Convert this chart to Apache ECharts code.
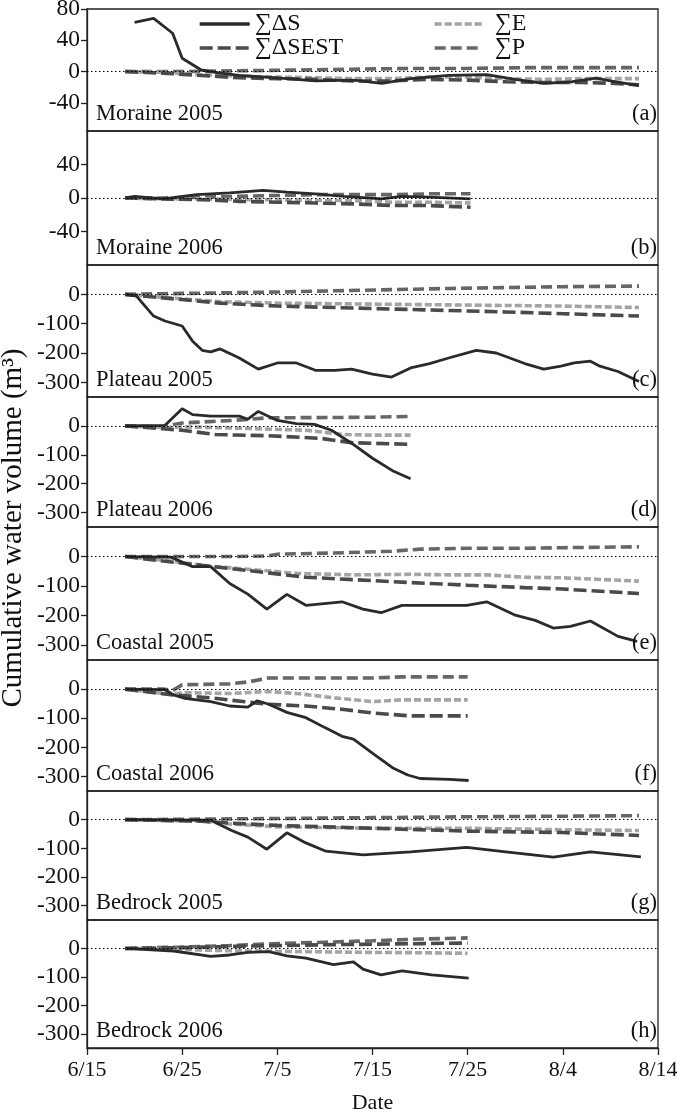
<!DOCTYPE html>
<html>
<head>
<meta charset="utf-8">
<script src="https://cdn.jsdelivr.net/npm/echarts@6/dist/echarts.min.js"></script>
<style>
  html, body { margin: 0; padding: 0; background: #fff; }
  #chart { width: 678px; height: 1115px; }
</style>
</head>
<body>
<div id="chart"></div>
<script>
  // x = days after 6/15
  const tickLabels = ['6/15', '6/25', '7/5', '7/15', '7/25', '8/4', '8/14'];
  const panelNames = ['Moraine 2005', 'Moraine 2006', 'Plateau 2005', 'Plateau 2006',
    'Coastal 2005', 'Coastal 2006', 'Bedrock 2005', 'Bedrock 2006'];
  const panelLetters = ['(a)', '(b)', '(c)', '(d)', '(e)', '(f)', '(g)', '(h)'];
  const yMins = [-76, -80, -350, -350, -350, -350, -350, -350];
  const yMaxs = [80, 80, 100, 100, 100, 100, 100, 100];
  const yTickValues = [[-40, 0, 40, 80], [-40, 0, 40], [-300, -200, -100, 0], [-300, -200, -100, 0],
    [-300, -200, -100, 0], [-300, -200, -100, 0], [-300, -200, -100, 0], [-300, -200, -100, 0]];

  // Moraine 2005
  const a_dS = [[5,63],[7,68],[9,49],[10,17],[12,2],[14,-2],[16,-5],[20,-8],[24,-12],[28,-11],[31,-15],[34,-9],[38,-5],[42,-4],[45,-10],[48,-15],[51,-13],[53.5,-8.5],[55,-12],[58,-18]];
  const a_dSEST = [[4,0],[8,-2],[12,-5],[16,-8],[20,-9],[24,-10],[28,-12],[32,-12],[36,-10],[40,-11],[44,-13],[48,-14],[52,-14],[55,-15],[58,-17]];
  const a_E = [[4,0],[8,-1],[12,-4],[16,-6],[20,-7],[24,-8],[28,-9],[32,-9],[36,-7],[40,-7],[44,-9],[48,-10],[52,-9],[55,-9],[58,-9]];
  const a_P = [[4,0],[10,0],[16,1],[22,2],[28,3],[34,4],[40,4],[46,5],[52,5],[58,5]];
  // Moraine 2006
  const b_dS = [[4,0],[5,2],[8,-1],[11.5,4],[15,6],[18.5,9],[21,7],[24,5],[27,2],[31,-1],[33,2],[36,1],[40.3,-1]];
  const b_dSEST = [[4,0],[8,-1],[12,-2],[16,-4],[20,-5],[24,-6],[28,-7],[32,-9],[36,-9],[40.3,-11]];
  const b_E = [[4,0],[8,-1],[12,-1],[16,-2],[20,-2],[24,-3],[28,-3],[32,-5],[36,-5],[40.3,-6]];
  const b_P = [[4,0],[8,0],[12,1],[16,2],[20,3],[24,4],[28,4],[32,4],[36,5],[40.3,5]];
  // Plateau 2005
  const c_dS = [[4,0],[5.2,-6],[7,-74],[8.2,-91],[10,-108],[11.1,-160],[12.1,-191],[13,-196],[14,-186],[16,-217],[18,-255],[20,-234],[22,-234],[24,-259],[26,-259],[27.8,-255],[30,-272],[32,-282],[34,-251],[36,-236],[38,-217],[40.9,-191],[43,-200],[46,-236],[48,-255],[49.8,-245],[51.2,-234],[52.9,-228],[53.9,-245],[55.8,-263],[58,-297]];
  const c_dSEST = [[4,0],[8,-12],[14,-30],[20,-40],[26,-45],[32,-50],[38,-55],[44,-60],[50,-66],[58,-74]];
  const c_E = [[4,0],[8,-10],[14,-25],[20,-30],[26,-32],[32,-34],[38,-36],[44,-38],[50,-40],[58,-45]];
  const c_P = [[4,0],[8,2],[14,5],[20,8],[26,12],[32,16],[38,20],[44,23],[50,26],[58,28]];
  // Plateau 2006
  const d_dS = [[4,0],[8.2,2],[10,59],[11.1,39],[13,34],[16,34],[16.9,23],[18,50],[20,19],[22,8],[23.9,5],[25.7,-15],[27.8,-60],[30,-112],[32.1,-155],[34,-183]];
  const d_dSEST = [[4,0],[8,-10],[10,-15],[13.5,-30],[19,-34],[24.5,-43],[27.8,-58],[34,-64]];
  const d_E = [[4,0],[8,-6],[10,-3],[17,-9],[23,-15],[27,-30],[30,-32],[34,-32]];
  const d_P = [[4,0],[8,-3],[10,10],[15.4,19],[19,28],[26,29],[30,30],[34,33]];
  // Coastal 2005
  const e_dS = [[4,0],[8.8,-2],[11.1,-34],[13,-34],[15,-91],[16.9,-127],[18.9,-178],[21,-128],[23,-165],[26.8,-153],[29,-178],[30.9,-190],[33.1,-165],[39.9,-165],[42,-153],[44.9,-197],[47.1,-216],[49,-242],[50.8,-236],[52.9,-218],[55.8,-270],[57.8,-287]];
  const e_dSEST = [[4,0],[8,-15],[13,-33],[19,-55],[23,-70],[28,-78],[34,-88],[40,-97],[46,-105],[50,-110],[58,-125]];
  const e_E = [[4,0],[8,-12],[13,-33],[19,-48],[22,-57],[28,-62],[34,-60],[38,-62],[42,-62],[46,-70],[50,-72],[58,-83]];
  const e_P = [[4,0],[10,0],[15,0],[19,2],[20,8],[26,12],[32,18],[35,25],[40,28],[46,28],[50,30],[58,33]];
  // Coastal 2006
  const f_dS = [[4,0],[8.2,-2],[9.1,-20],[10.3,-32],[13,-43],[15,-58],[16.9,-62],[17.9,-40],[19.1,-52],[21,-80],[23,-98],[25.1,-134],[26.8,-162],[28,-172],[30.2,-225],[32.1,-270],[33.7,-295],[35,-307],[38.1,-310],[40.1,-314]];
  const f_dSEST = [[4,0],[9,-20],[13,-30],[17,-45],[19,-52],[23,-58],[27,-70],[30,-82],[34,-92],[40,-92]];
  const f_E = [[4,0],[9,-18],[10,-12],[15,-15],[19,-8],[22,-15],[26,-30],[30,-43],[33,-37],[40,-37]];
  const f_P = [[4,0],[8,0],[9,-5],[10,15],[15,18],[17,25],[19,38],[25,38],[30,38],[33,42],[40,42]];
  // Bedrock 2005
  const g_dS = [[4,0],[13,-2],[15.2,-38],[16.9,-61],[18.9,-103],[21,-46],[23,-81],[25.1,-110],[29,-123],[34,-112],[39.9,-97],[44,-112],[49,-131],[52.9,-112],[58.2,-130]];
  const g_dSEST = [[4,0],[12,-5],[15,-12],[20,-20],[30,-30],[40,-40],[50,-45],[58,-55]];
  const g_E = [[4,0],[12,-5],[15,-15],[20,-25],[30,-30],[40,-30],[50,-35],[58,-38]];
  const g_P = [[4,0],[12,2],[20,4],[30,7],[40,10],[50,12],[58,14]];
  // Bedrock 2006
  const h_dS = [[4,0],[9.1,-9],[13,-28],[15,-23],[16.9,-14],[19.1,-11],[21,-26],[23,-34],[25.9,-57],[28,-47],[29,-73],[30.9,-93],[33.1,-79],[36.2,-93],[40.1,-104]];
  const h_dSEST = [[4,0],[10,3],[15,7],[20,10],[25,13],[30,15],[35,17],[40,19]];
  const h_E = [[4,0],[10,-4],[15,-8],[20,-10],[25,-12],[30,-14],[35,-15],[40,-17]];
  const h_P = [[4,0],[10,5],[15,10],[20,17],[25,22],[30,27],[35,33],[40,37]];

  const dSData = [a_dS, b_dS, c_dS, d_dS, e_dS, f_dS, g_dS, h_dS];
  const dSESTData = [a_dSEST, b_dSEST, c_dSEST, d_dSEST, e_dSEST, f_dSEST, g_dSEST, h_dSEST];
  const EData = [a_E, b_E, c_E, d_E, e_E, f_E, g_E, h_E];
  const PData = [a_P, b_P, c_P, d_P, e_P, f_P, g_P, h_P];

  const gridTops = [9, 131, 265, 397, 527, 660, 791, 920];
  const gridHeights = [122, 134, 132, 130, 133, 131, 129, 128];
  const FONT = "'Liberation Serif', 'Times New Roman', serif";

  const grids = [], xAxes = [], yAxes = [], series = [], titles = [];
  for (let i = 0; i < 8; i++) {
    const last = i === 7;
    grids.push({
      left: 87, right: 20, top: gridTops[i], height: gridHeights[i],
      outerBoundsMode: 'none', containLabel: false,
      show: true, borderColor: '#222', borderWidth: 1.3
    });
    xAxes.push({
      gridIndex: i, type: 'value', min: 0, max: 60, interval: 10,
      axisLine: { show: last, onZero: false, lineStyle: { color: '#222', width: 1.3 } },
      axisTick: { show: last, length: 7, lineStyle: { color: '#222', width: 1.3 } },
      axisLabel: {
        show: last, fontFamily: FONT, fontSize: 22, color: '#111', margin: 11,
        formatter: v => tickLabels[v / 10]
      },
      splitLine: { show: false },
      name: last ? 'Date' : '', nameLocation: 'middle', nameGap: 44,
      nameTextStyle: { fontFamily: FONT, fontSize: 22, color: '#111' }
    });
    yAxes.push({
      gridIndex: i, type: 'value', min: yMins[i], max: yMaxs[i],
      axisLine: { show: true, onZero: false, lineStyle: { color: '#222', width: 1.3 } },
      axisTick: { show: true, length: 6, customValues: yTickValues[i], lineStyle: { color: '#222', width: 1.3 } },
      axisLabel: { fontFamily: FONT, fontSize: 23.5, color: '#111', margin: 7, customValues: yTickValues[i] },
      splitLine: { show: false }
    });
    series.push({
      name: '∑P', type: 'line', xAxisIndex: i, yAxisIndex: i, data: PData[i],
      symbol: 'none', lineStyle: { color: '#666', width: 3.6, type: [11, 5] },
      itemStyle: { color: '#666' },
      markLine: {
        silent: true, symbol: ['none', 'none'], label: { show: false },
        lineStyle: { color: '#000', width: 1.2, type: [1.5, 2.5] },
        data: [{ yAxis: 0 }]
      }
    });
    series.push({
      name: '∑E', type: 'line', xAxisIndex: i, yAxisIndex: i, data: EData[i],
      symbol: 'none', lineStyle: { color: '#a4a4a4', width: 3.6, type: [7, 3] },
      itemStyle: { color: '#a4a4a4' }
    });
    series.push({
      name: '∑ΔSEST', type: 'line', xAxisIndex: i, yAxisIndex: i, data: dSESTData[i],
      symbol: 'none', lineStyle: { color: '#4a4a4a', width: 3.6, type: [13, 5] },
      itemStyle: { color: '#4a4a4a' }
    });
    series.push({
      name: '∑ΔS', type: 'line', xAxisIndex: i, yAxisIndex: i, data: dSData[i],
      symbol: 'none', lineStyle: { color: '#2a2a2a', width: 2.8 },
      itemStyle: { color: '#2a2a2a' }
    });
    const bottom = gridTops[i] + gridHeights[i];
    titles.push({
      text: panelNames[i], left: 96, top: bottom - 28, padding: 0,
      textStyle: { fontFamily: FONT, fontSize: 22.5, fontWeight: 'normal', color: '#111' }
    });
    titles.push({
      text: panelLetters[i], right: 21, top: bottom - 28, padding: 0,
      textStyle: { fontFamily: FONT, fontSize: 22.5, fontWeight: 'normal', color: '#111' }
    });
  }

  const legendText = { fontFamily: FONT, fontSize: 24, color: '#111' };
  const chart = echarts.init(document.getElementById('chart'), null, { renderer: 'canvas' });
  chart.setOption({
    backgroundColor: '#fff',
    animation: false,
    title: titles,
    grid: grids,
    xAxis: xAxes,
    yAxis: yAxes,
    legend: [
      { data: ['∑ΔS', '∑ΔSEST'], orient: 'vertical', left: 198, top: 12, itemWidth: 50, itemHeight: 14,
        itemGap: 0, padding: 0, itemStyle: { opacity: 0 }, lineStyle: { width: 3.4 }, textStyle: legendText },
      { data: ['∑E', '∑P'], orient: 'vertical', left: 433, top: 12, itemWidth: 47, itemHeight: 14,
        itemGap: 0, padding: 0, itemStyle: { opacity: 0 }, lineStyle: { width: 3.4 },
        textStyle: Object.assign({ padding: [0, 0, 0, 8] }, legendText) }
    ],
    graphic: [{
      type: 'text', x: 13, y: 528,
      rotation: Math.PI / 2,
      style: {
        text: 'Cumulative water volume (m³)', font: '29px ' + FONT, fill: '#111',
        align: 'center', verticalAlign: 'middle'
      }
    }],
    series: series
  });
</script>
</body>
</html>
